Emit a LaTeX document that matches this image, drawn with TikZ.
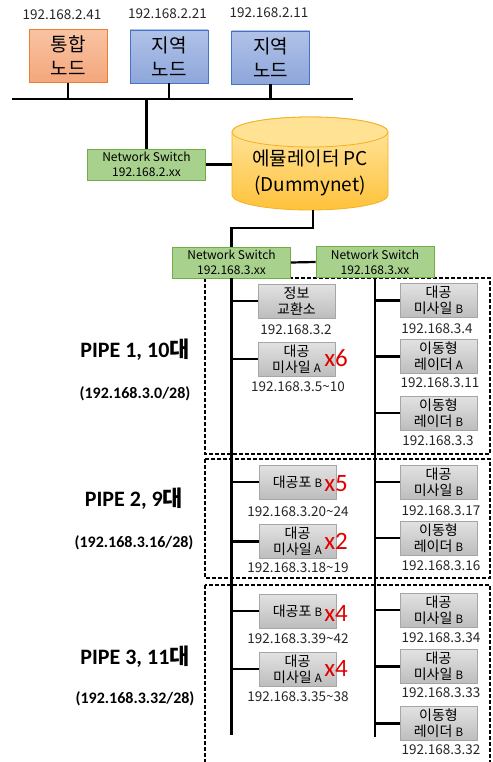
\documentclass[tikz,border=0pt]{standalone}
\usepackage{fontspec}
\setmainfont{Noto Sans CJK KR}
\newfontfamily\calfont{Carlito}

\definecolor{orangeTop}{HTML}{F8C3A3}
\definecolor{orangeFill}{HTML}{F4A77C}
\definecolor{orangeLine}{HTML}{ED7D31}
\definecolor{blueTop}{HTML}{B0C2E8}
\definecolor{blueFill}{HTML}{8EA6DA}
\definecolor{blueLine}{HTML}{4472C4}
\definecolor{greenFill}{HTML}{A9D18E}
\definecolor{greenLine}{HTML}{70AD47}
\definecolor{cylCap}{HTML}{FFE294}
\definecolor{cylTop}{HTML}{FFE8A8}
\definecolor{cylBot}{HTML}{FFC23A}
\definecolor{cylLine}{HTML}{F5B020}
\definecolor{grayTop}{HTML}{E2E2E2}
\definecolor{grayBot}{HTML}{BDBDBD}
\definecolor{grayLine}{HTML}{A6A6A6}
\definecolor{countRed}{HTML}{E00000}

\newcommand{\sublabel}[1]{{\fontsize{11.5}{11.5}\selectfont #1}}

\begin{document}
\begin{tikzpicture}[x=1pt, y=-1pt, line width=2.2pt,
    bignode/.style={minimum width=78pt, minimum height=53pt, inner sep=0pt,
        line width=0.8pt, align=center, font=\fontsize{19}{24}\selectfont},
    switch/.style={draw=greenLine, fill=greenFill, line width=0.8pt,
        minimum width=118pt, minimum height=31pt, inner sep=0pt, align=center,
        font=\fontsize{12}{15}\selectfont},
    device/.style={draw=grayLine, top color=grayTop, bottom color=grayBot,
        line width=0.8pt, minimum width=77pt, minimum height=34pt,
        inner sep=0pt, align=center, font=\fontsize{14}{16}\selectfont},
    ip/.style={inner sep=0pt, text=black!85, font=\fontsize{13.5}{13.5}\selectfont},
    count/.style={inner sep=0pt, text=countRed, font=\calfont\fontsize{25}{25}\selectfont},
    pipebox/.style={line width=1.6pt, dash pattern=on 4pt off 2pt},
    pipe/.style={inner sep=0pt, font=\calfont\bfseries\fontsize{22}{22}\selectfont},
    pipesub/.style={inner sep=0pt, font=\calfont\bfseries\fontsize{16}{16}\selectfont}]
    \useasboundingbox (0,0) rectangle (492,762);

    % top nodes
    \node[bignode, draw=orangeLine, top color=orangeTop, bottom color=orangeFill]
        (integ) at (68,56) {통합\\노드};
    \node[bignode, draw=blueLine, top color=blueTop, bottom color=blueFill]
        (local1) at (169,56.5) {지역\\노드};
    \node[bignode, draw=blueLine, top color=blueTop, bottom color=blueFill]
        (local2) at (270.5,57.5) {지역\\노드};
    \node[ip] (integip) at (62,15) {192.168.2.41};
    \node[ip] (local1ip) at (167.5,14) {192.168.2.21};
    \node[ip] (local2ip) at (269,13) {192.168.2.11};

    \coordinate (busL) at (12,99);
    \coordinate (busR) at (353,99);
    \draw (busL) -- (busR);
    \draw (integ.south) -- (integ.south |- busL);
    \draw (local1.south) -- (local1.south |- busL);
    \draw (local2.south) -- (local2.south |- busL);

    % emulator cylinder
    \shade[top color=cylTop, bottom color=cylBot, draw=cylLine, line width=0.8pt]
        (232,132) -- (232,195)
        arc[start angle=180, end angle=360, x radius=78pt, y radius=15pt]
        -- (388,132)
        arc[start angle=0, end angle=180, x radius=78pt, y radius=15pt] -- cycle;
    \filldraw[fill=cylCap, draw=cylLine, line width=0.8pt]
        (310,132) ellipse [x radius=78pt, y radius=15pt];
    \node[inner sep=0pt, align=center, font=\fontsize{19}{26}\selectfont]
        (emul) at (310,173) {에뮬레이터 PC\\(Dummynet)};
    \coordinate (emulW) at (232,163);
    \coordinate (emulS) at (313,210);

    \node[switch] (ns1) at (146.5,164.5) {Network Switch\\192.168.2.xx};
    \draw (ns1.north) -- (ns1.north |- busL);
    \draw (ns1.east) -- (ns1.east -| emulW);

    % pipe boxes
    \draw[pipebox] (205,278) rectangle (490,454);
    \draw[pipebox] (205,459) rectangle (490,578);
    \draw[pipebox] (205,585) rectangle (490,775);

    \node[switch] (ns2) at (231.5,262.5) {Network Switch\\192.168.3.xx};
    \node[switch] (ns3) at (375,262) {Network Switch\\192.168.3.xx};
    \draw (emulS) -- ++(0,18) -| (ns2.north);
    \draw (ns2.east) -- (ns3.west);
    \coordinate (lbusEnd) at (231.5,735);
    \coordinate (rbusEnd) at (375,737);
    \draw (ns2.south) -- (lbusEnd);
    \draw (ns3.south) -- (rbusEnd);

    % PIPE 1
    \node[pipe] (pipe1) at (135,350) {PIPE 1, 10{\rmfamily 대}};
    \node[pipesub] (pipe1ip) at (135,394) {(192.168.3.0/28)};
    \node[device] (info) at (296.5,301) {정보\\교환소};
    \node[ip] (infoip) at (296,330) {192.168.3.2};
    \node[device] (misA1) at (296.5,359) {대공\\미사일 \sublabel{A}};
    \node[ip] (misA1ip) at (298,387) {192.168.3.5\textasciitilde10};
    \node[count] (misA1n) at (336,358) {x6};
    \node[device] (misB1) at (438.5,300.5) {대공\\미사일 \sublabel{B}};
    \node[ip] (misB1ip) at (437,329) {192.168.3.4};
    \node[device] (radA1) at (438.5,356.5) {이동형\\레이더 \sublabel{A}};
    \node[ip] (radA1ip) at (440,383) {192.168.3.11};
    \node[device] (radB1) at (438.5,413) {이동형\\레이더 \sublabel{B}};
    \node[ip] (radB1ip) at (438,441) {192.168.3.3};

    % PIPE 2
    \node[pipe] (pipe2) at (134,499) {PIPE 2, 9{\rmfamily 대}};
    \node[pipesub] (pipe2ip) at (134,543) {(192.168.3.16/28)};
    \node[device] (gunB2) at (297.5,482) {대공포 \sublabel{B}};
    \node[ip] (gunB2ip) at (298,512) {192.168.3.20\textasciitilde24};
    \node[count] (gunB2n) at (336,484) {x5};
    \node[device] (misA2) at (297.5,541.5) {대공\\미사일 \sublabel{A}};
    \node[ip] (misA2ip) at (298,568) {192.168.3.18\textasciitilde19};
    \node[count] (misA2n) at (336,541) {x2};
    \node[device] (misB2) at (438.5,482) {대공\\미사일 \sublabel{B}};
    \node[ip] (misB2ip) at (441,511) {192.168.3.17};
    \node[device] (radB2) at (438.5,538) {이동형\\레이더 \sublabel{B}};
    \node[ip] (radB2ip) at (441,566) {192.168.3.16};

    % PIPE 3
    \node[pipe] (pipe3) at (135,657) {PIPE 3, 11{\rmfamily 대}};
    \node[pipesub] (pipe3ip) at (135,699) {(192.168.3.32/28)};
    \node[device] (gunB3) at (297.5,611) {대공포 \sublabel{B}};
    \node[ip] (gunB3ip) at (298,639) {192.168.3.39\textasciitilde42};
    \node[count] (gunB3n) at (336,613) {x4};
    \node[device] (misA3) at (297.5,669) {대공\\미사일 \sublabel{A}};
    \node[ip] (misA3ip) at (298,697) {192.168.3.35\textasciitilde38};
    \node[count] (misA3n) at (336,668) {x4};
    \node[device] (misB3) at (438.5,610) {대공\\미사일 \sublabel{B}};
    \node[ip] (misB3ip) at (441,638) {192.168.3.34};
    \node[device] (misB3b) at (438.5,666.5) {대공\\미사일 \sublabel{B}};
    \node[ip] (misB3bip) at (441,693) {192.168.3.33};
    \node[device] (radB3) at (438.5,723.5) {이동형\\레이더 \sublabel{B}};
    \node[ip] (radB3ip) at (441,750) {192.168.3.32};

    % branches
    \foreach \d in {info, misA1, gunB2, misA2, gunB3, misA3}
        \draw (ns2.south |- \d.west) -- (\d.west);
    \foreach \d in {misB1, radA1, radB1, misB2, radB2, misB3, misB3b, radB3}
        \draw (ns3.south |- \d.west) -- (\d.west);
\end{tikzpicture}
\end{document}
